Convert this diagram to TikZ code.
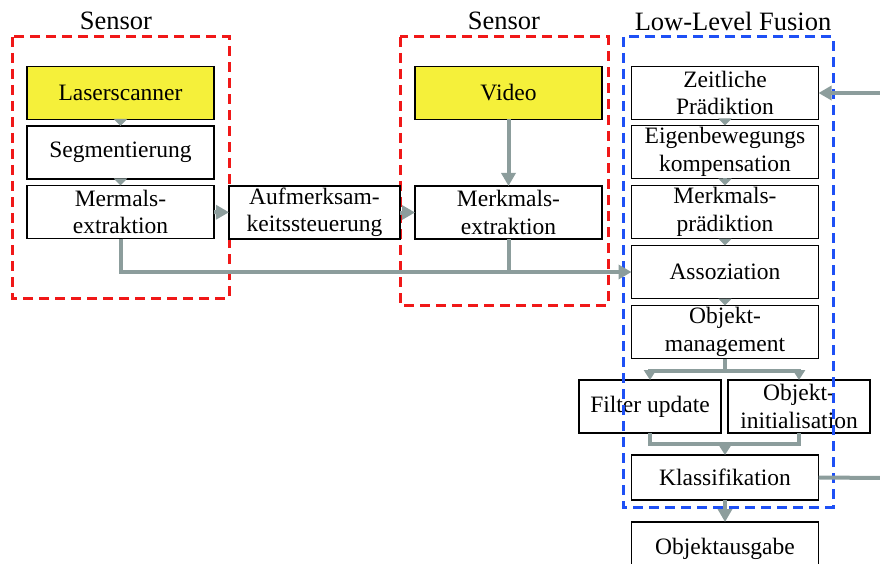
\documentclass[tikz,border=0pt]{standalone}
\usepackage{fontspec}
\setmainfont{Liberation Serif}
\usepackage{tikz}
\usetikzlibrary{arrows.meta}
\definecolor{flowgray}{HTML}{8C9D9C}
\definecolor{sensyellow}{HTML}{F5F03A}
\definecolor{groupred}{HTML}{F01818}
\definecolor{groupblue}{HTML}{1E50F5}

\begin{document}
\begin{tikzpicture}[x=1pt,y=-1pt,
  box/.style={draw=black, line width=1.5pt, fill=white, inner sep=0pt, outer sep=0pt, align=center,
    minimum width=187pt, minimum height=53pt, font=\fontsize{23.5}{27.5}\selectfont},
  smallbox/.style={box, minimum width=142pt},
  yellowbox/.style={box, fill=sensyellow},
  title/.style={font=\fontsize{26.5}{30}\selectfont},
  sensgroup/.style={draw=groupred, line width=3pt, dash pattern=on 10pt off 6pt},
  fusegroup/.style={draw=groupblue, line width=3pt, dash pattern=on 10pt off 6pt},
  flowline/.style={draw=flowgray, line width=4pt},
  flow/.style={flowline, -{Triangle[length=13pt,width=14pt]}},
  branchflow/.style={flowline, -{Triangle[length=10pt,width=12pt]}},
  shortflow/.style={flowline, -{Triangle[length=7pt,width=13pt]}}]
\useasboundingbox (0,0) rectangle (880,564);

% groups
\draw[sensgroup] (12,37) rectangle (229,298);
\draw[sensgroup] (400,37) rectangle (608,305);
\node[title] (tsens1) at (116,21) {Sensor};
\node[title] (tsens2) at (504,21) {Sensor};
\node[title] (tfusion) at (733,21) {Low-Level Fusion};

% laser path
\node[yellowbox] (laser) at (120.5,93) {Laserscanner};
\node[box] (segm) at (120.5,152.5) {Segmentierung};
\node[box] (merm) at (120.5,212) {Mermals-\\extraktion};
\node[box, minimum width=171pt] (aufm) at (314.5,212.5) {Aufmerksam-\\keitssteuerung};

% video path
\node[yellowbox] (video) at (508.5,93) {Video};
\node[box] (merk) at (508.5,212.5) {Merkmals-\\extraktion};

% fusion
\node[box] (zeit) at (725,93) {Zeitliche\\Prädiktion};
\node[box] (eigen) at (725,152) {Eigenbewegungs\\kompensation};
\node[box] (mpred) at (725,212) {Merkmals-\\prädiktion};
\node[box] (asso) at (725,272) {Assoziation};
\node[box] (objm) at (725,332) {Objekt-\\management};
\node[smallbox] (filt) at (650,406.5) {Filter update};
\node[smallbox] (init) at (799,406.5) {Objekt-\\initialisation};
\node[box, minimum height=45pt] (klass) at (725,477.5) {Klassifikation};
\node[box] (ausg) at (725,548.5) {Objektausgabe};

\draw[fusegroup] (623,37) rectangle (833,507);

\draw[shortflow] (laser) -- (segm);
\draw[shortflow] (segm) -- (merm);
\draw[flow] (merm) -- (aufm);
\draw[flow] (aufm) -- (merk);
\draw[flow] (video) -- (merk);
\draw[flow] (merm.south) |- (asso.west);
\draw[flowline] (merk.south) -- (merk.south |- asso.west);

\draw[shortflow] (zeit) -- (eigen);
\draw[shortflow] (eigen) -- (mpred);
\draw[shortflow] (mpred) -- (asso);
\draw[shortflow] (asso) -- (objm);
\draw[branchflow] (objm.south) -- ++(0,12) -| (filt.north);
\draw[branchflow] (objm.south) -- ++(0,12) -| (init.north);
\draw[flowline] (filt.south) -- ++(0,11) -| (init.south);
\coordinate (merge) at (725,444);
\draw[branchflow] (merge) -- (klass.north);
\draw[flow] (klass) -- (ausg);

\coordinate (fbout) at (882,478);
\coordinate (fbin) at (882,93);
\draw[flowline] (klass.east) -- (fbout);
\draw[flow] (fbin) -- (zeit.east);
\end{tikzpicture}
\end{document}
